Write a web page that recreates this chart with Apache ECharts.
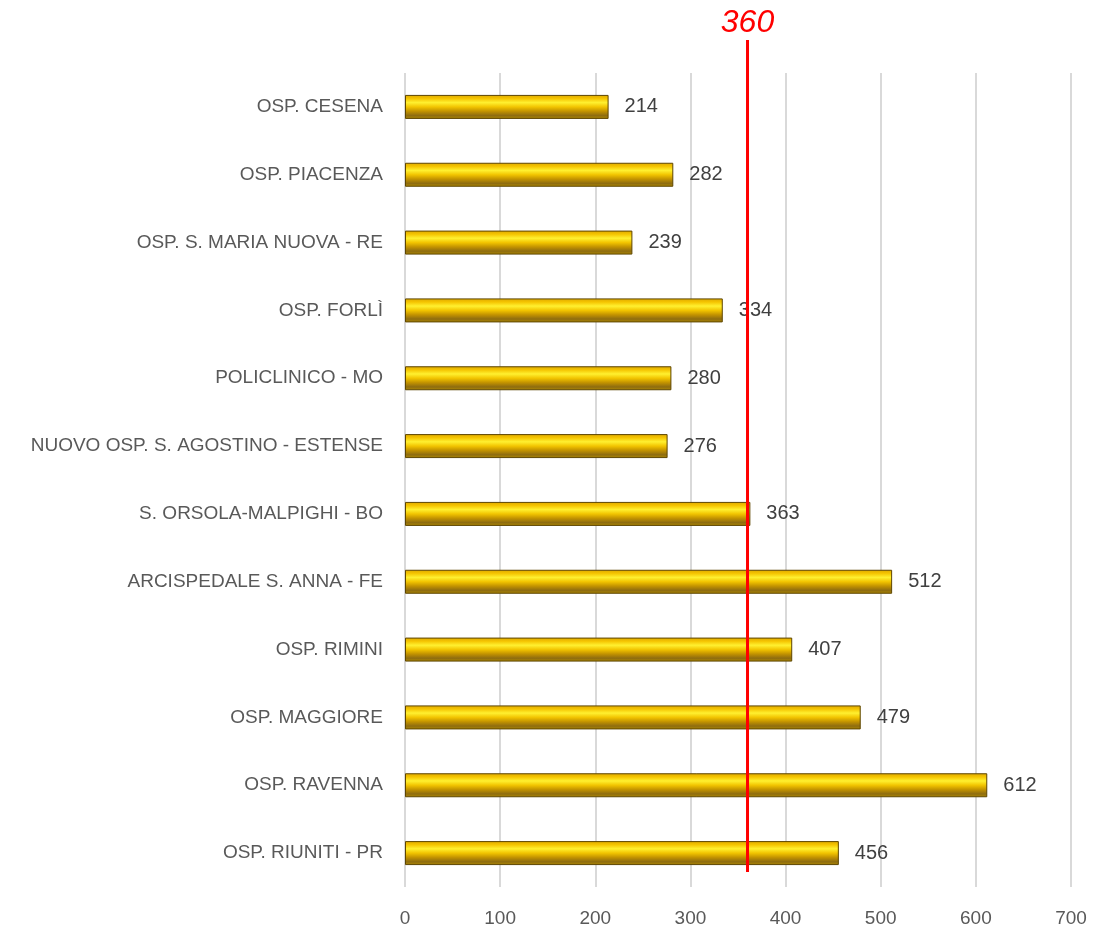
<!DOCTYPE html>
<html>
<head>
    <meta charset="utf-8">
    <title>Ospedali</title>
    <script src="https://cdn.jsdelivr.net/npm/echarts@6/dist/echarts.min.js"></script>
    <style>
        body { margin: 0; background: #fff; }
    </style>
</head>
<body>
<div id="chart" style="width:1094px;height:930px;"></div>
<script type="text/javascript">
    // dati, dall'alto verso il basso
    var categories = [
        'OSP. CESENA', 'OSP. PIACENZA', 'OSP. S. MARIA NUOVA - RE', 'OSP. FORLÌ',
        'POLICLINICO - MO', 'NUOVO OSP. S. AGOSTINO - ESTENSE', 'S. ORSOLA-MALPIGHI - BO',
        'ARCISPEDALE S. ANNA - FE', 'OSP. RIMINI', 'OSP. MAGGIORE', 'OSP. RAVENNA', 'OSP. RIUNITI - PR'
    ];
    var values = [214, 282, 239, 334, 280, 276, 363, 512, 407, 479, 612, 456];
    var target = 360;
    var xTicks = [0, 700, 100]; // min, max, interval

    var myChart = echarts.init(document.getElementById('chart'));

    // sfumatura "oro" per le barre
    var gold = new echarts.graphic.LinearGradient(0, 0, 0, 1, [
        { offset: 0, color: '#DDA800' },
        { offset: 0.15, color: '#F5C400' },
        { offset: 0.32, color: '#FFF030' },
        { offset: 0.5, color: '#F2C400' },
        { offset: 0.68, color: '#C39300' },
        { offset: 0.86, color: '#8E6C10' },
        { offset: 1, color: '#B08A00' }
    ]);

    var fontLab = { color: '#595959', fontSize: 19, fontFamily: 'Liberation Sans' };

    myChart.setOption({
        animation: false,
        grid: [
            { left: 405, right: 23, top: 73, bottom: 43 },
            // griglia per la linea rossa del riferimento (sporge sopra il grafico)
            { left: 405, right: 23, top: 40, bottom: 58 }
        ],
        xAxis: [{
            type: 'value',
            gridIndex: 0,
            min: xTicks[0],
            max: xTicks[1],
            interval: xTicks[2],
            axisLine: { show: false },
            axisTick: { show: false },
            splitLine: { show: true, lineStyle: { color: '#D9D9D9', width: 2 } },
            axisLabel: Object.assign({ margin: 22 }, fontLab)
        }, {
            type: 'value',
            gridIndex: 1,
            min: xTicks[0],
            max: xTicks[1],
            show: false
        }],
        yAxis: [{
            type: 'category',
            gridIndex: 0,
            inverse: true,
            data: categories,
            axisLine: { show: false },
            axisTick: { show: false },
            axisLabel: Object.assign({ margin: 22 }, fontLab)
        }, {
            type: 'value',
            gridIndex: 1,
            min: 0,
            max: 1,
            show: false
        }],
        series: [{
            type: 'bar',
            xAxisIndex: 0,
            yAxisIndex: 0,
            data: values,
            barWidth: 24,
            itemStyle: { color: gold, borderColor: '#5E4600', borderWidth: 1 },
            label: {
                show: true,
                position: 'right',
                distance: 16,
                color: '#404040',
                fontSize: 20,
                fontFamily: 'Liberation Sans'
            }
        }, {
            type: 'line',
            xAxisIndex: 1,
            yAxisIndex: 1,
            silent: true,
            z: 5,
            symbol: 'circle',
            symbolSize: 0,
            lineStyle: { color: '#FF0000', width: 3 },
            itemStyle: { color: '#FF0000' },
            data: [
                { value: [target, 0] },
                {
                    value: [target, 1],
                    label: {
                        show: true,
                        position: 'top',
                        distance: 1,
                        formatter: String(target),
                        color: '#FF0000',
                        fontSize: 32,
                        fontStyle: 'italic',
                        fontFamily: 'Liberation Sans'
                    }
                }
            ]
        }]
    });
</script>
</body>
</html>
